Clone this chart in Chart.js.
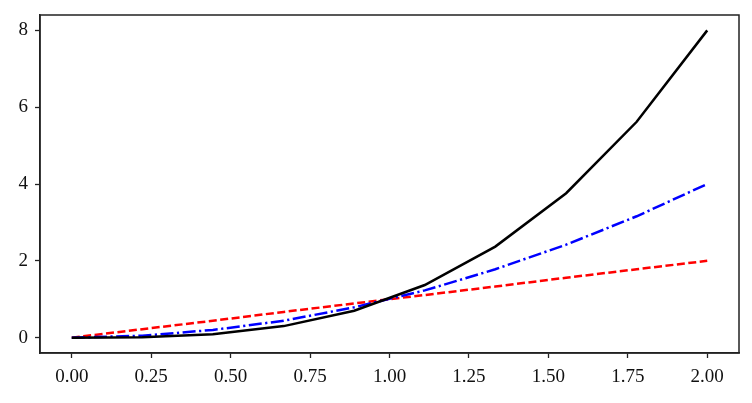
<!DOCTYPE html>
<html>
<head>
<meta charset="utf-8">
<script src="https://cdn.jsdelivr.net/npm/chart.js@4/dist/chart.umd.min.js"></script>
<style>
  body { margin: 0; background: #fff; }
  #wrap { width: 752px; height: 403px; }
</style>
</head>
<body>
<div id="wrap"><canvas id="myChart"></canvas></div>
<script>
// x positions (10 samples from 0 to 2)
const xs = [0, 0.222, 0.444, 0.667, 0.889, 1.111, 1.333, 1.556, 1.778, 2.0];
// series values
const linear = [0, 0.22, 0.44, 0.67, 0.89, 1.11, 1.33, 1.56, 1.78, 2.0];
const square = [0, 0.05, 0.20, 0.44, 0.79, 1.23, 1.78, 2.42, 3.16, 4.0];
const cube = [0, 0.01, 0.09, 0.30, 0.70, 1.37, 2.37, 3.76, 5.62, 8.0];
// tick labels
const xTicks = [0, 0.25, 0.5, 0.75, 1.0, 1.25, 1.5, 1.75, 2.0];
const yTicks = [0, 2, 4, 6, 8];

const pts = (ys) => xs.map((x, i) => ({ x: x, y: ys[i] }));
const FONT = { family: "'Liberation Serif', 'DejaVu Serif', serif", size: 19 };
const AX = "#222";

// draw the box round the plot area
const frame = {
    id: "frame",
    afterDraw(chart) {
        const a = chart.chartArea, c = chart.ctx;
        c.save();
        c.strokeStyle = AX;
        c.lineWidth = 1.5;
        c.strokeRect(a.left, a.top, a.right - a.left, a.bottom - a.top);
        c.restore();
    }
};

const ctx = document.getElementById("myChart").getContext("2d");
const chart = new Chart(ctx, {
    type: "line",
    data: {
        datasets: [
            {
                label: "x",
                data: pts(linear),
                borderColor: "#ff0000",
                borderDash: [8, 3.5],
                order: 3
            },
            {
                label: "x^2",
                data: pts(square),
                borderColor: "#0000ff",
                borderDash: [13, 3.5, 2.2, 3.5],
                order: 2
            },
            {
                label: "x^3",
                data: pts(cube),
                borderColor: "#000000",
                order: 1
            }
        ]
    },
    options: {
        responsive: true,
        maintainAspectRatio: false,
        animation: false,
        layout: { padding: { top: 15, right: 13, left: 0, bottom: 0 } },
        elements: {
            point: { radius: 0 },
            line: { borderWidth: 2.5, tension: 0, fill: false }
        },
        plugins: { legend: { display: false }, tooltip: { enabled: false } },
        scales: {
            x: {
                type: "linear",
                min: -0.1,
                max: 2.1,
                afterBuildTicks: (s) => { s.ticks = xTicks.map(v => ({ value: v })); },
                afterFit: (s) => { s.height = 50; s.paddingLeft = 0; s.paddingRight = 0; },
                grid: { drawOnChartArea: false, drawTicks: true, tickLength: 5, tickColor: AX, tickWidth: 1.3 },
                border: { color: AX, width: 1.5 },
                ticks: {
                    color: "#111",
                    font: FONT,
                    padding: 8,
                    maxRotation: 0,
                    autoSkip: false,
                    callback: (v) => v.toFixed(2)
                }
            },
            y: {
                type: "linear",
                min: -0.4,
                max: 8.4,
                afterBuildTicks: (s) => { s.ticks = yTicks.map(v => ({ value: v })); },
                afterFit: (s) => { s.width = 40; s.paddingTop = 0; s.paddingBottom = 0; },
                grid: { drawOnChartArea: false, drawTicks: true, tickLength: 5, tickColor: AX, tickWidth: 1.3 },
                border: { color: AX, width: 1.5 },
                ticks: {
                    color: "#111",
                    font: FONT,
                    padding: 7,
                    callback: (v) => String(v)
                }
            }
        }
    },
    plugins: [frame]
});
</script>
</body>
</html>
